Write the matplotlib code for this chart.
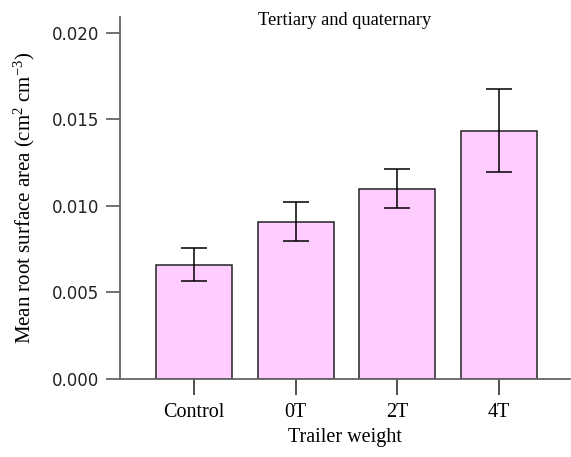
import matplotlib
matplotlib.use("Agg")
import matplotlib.pyplot as plt
import numpy as np

plt.rcParams["mathtext.fontset"] = "custom"
plt.rcParams["mathtext.rm"] = "Liberation Serif"
plt.rcParams["mathtext.it"] = "Liberation Serif:italic"
plt.rcParams["mathtext.bf"] = "Liberation Serif:bold"

categories = ["Control", "0T", "2T", "4T"]
means = [0.00660, 0.00908, 0.01100, 0.01435]
errors = [0.00096, 0.00113, 0.00113, 0.00240]
yticks = [0.000, 0.005, 0.010, 0.015, 0.020]
ytick_labels = ["0.000", "0.005", "0.010", "0.015", "0.020"]

serif = ["Liberation Serif", "DejaVu Serif"]

fig = plt.figure(figsize=(5.71, 4.57), dpi=100)
ax = fig.add_axes([120/571, 1-379/457, 450/571, (379-17)/457])

x = np.arange(len(categories))
ax.bar(x, means, width=0.75, color="#FFCCFF", edgecolor="#222222", linewidth=1.1, zorder=2)
ax.errorbar(x, means, yerr=errors, fmt="none", ecolor="black", elinewidth=1.1,
            capsize=9.5, capthick=1.1, zorder=3)

ax.set_xlim(-0.73, 3.70)
ax.set_ylim(0, 0.02092)

for s in ["top", "right"]:
    ax.spines[s].set_visible(False)
for s in ["left", "bottom"]:
    ax.spines[s].set_color("#666666")
    ax.spines[s].set_linewidth(1.3)

ax.set_yticks(yticks)
ax.set_yticklabels(ytick_labels, fontfamily="DejaVu Sans", fontsize=12, color="#222222")
ax.tick_params(axis="y", direction="out", length=10, width=1.3, color="#666666", pad=5)

ax.set_xticks(x)
ax.set_xticklabels(categories, fontfamily=serif, fontsize=14.5)
ax.tick_params(axis="x", direction="out", length=11.5, width=1.1, color="#222222", pad=6)

ax.set_xlabel("Trailer weight", fontfamily=serif, fontsize=14.5, labelpad=4)
ax.set_ylabel(r"Mean root surface area (cm$^{\mathrm{2}}$ cm$^{\mathrm{-3}}$)", fontfamily=serif,
              fontsize=15, labelpad=11)
ax.set_title("Tertiary and quaternary", fontfamily=serif, fontsize=13.3, y=1.0, pad=-6)

fig.savefig("out.png", dpi=100)
